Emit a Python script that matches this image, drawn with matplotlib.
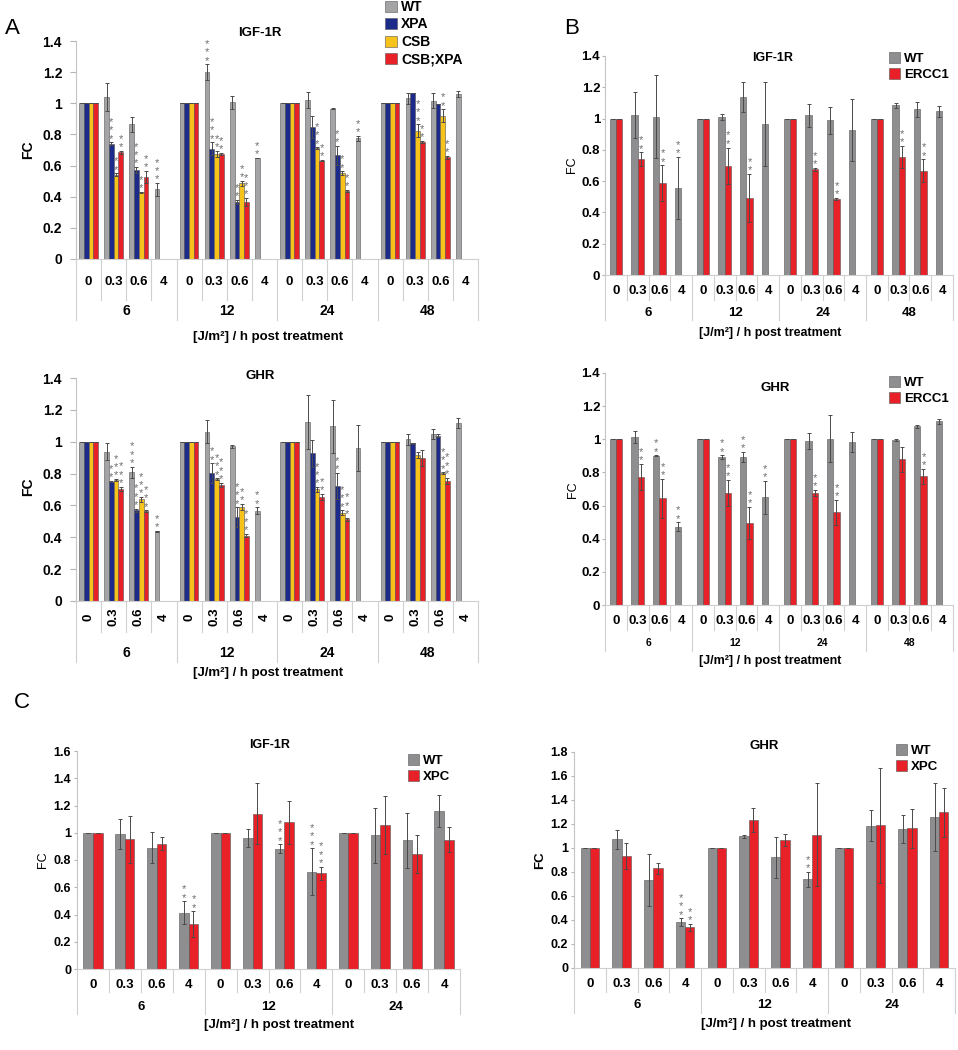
import numpy as np
import matplotlib
matplotlib.use('Agg')
import matplotlib.pyplot as plt
import matplotlib.transforms as mtransforms
from matplotlib.ticker import FuncFormatter

plt.rcParams['font.family'] = ['Liberation Sans', 'DejaVu Sans']

N = None  # no bar in that slot

# ---------------- data ----------------
groups4 = ['6', '12', '24', '48']
groups3 = ['6', '12', '24']
doses = ['0', '0.3', '0.6', '4']

# panel A, IGF-1R
a_igf_wt = [1, 1.043, 0.865, 0.447, 1, 1.2, 1.006, 0.649, 1, 1.021, 0.964, 0.775, 1, 1.032, 1.017, 1.06]
a_igf_wt_err = [0, 0.09, 0.05, 0.04, 0, 0.05, 0.04, 0, 0, 0.05, 0.003, 0.015, 0, 0.035, 0.05, 0.02]
a_igf_xpa = [1, 0.739, 0.57, N, 1, 0.709, 0.366, N, 1, 0.85, 0.666, N, 1, 1.068, 0.993, N]
a_igf_xpa_err = [0, 0.01, 0.02, N, 0, 0.04, 0.015, N, 0, 0.07, 0.06, N, 0, 0, 0, N]
a_igf_csb = [1, 0.54, 0.428, N, 1, 0.675, 0.486, N, 1, 0.713, 0.552, N, 1, 0.824, 0.921, N]
a_igf_csb_err = [0, 0.01, 0.005, N, 0, 0.02, 0.015, N, 0, 0.005, 0.01, N, 0, 0.04, 0.04, N]
a_igf_dbl = [1, 0.685, 0.525, N, 1, 0.675, 0.366, N, 1, 0.632, 0.437, N, 1, 0.752, 0.653, N]
a_igf_dbl_err = [0, 0.01, 0.04, N, 0, 0.005, 0.025, N, 0, 0.005, 0.005, N, 0, 0.005, 0.01, N]
a_igf_stars = [
    [0, 0, 0, 3, 0, 3, 0, 2, 0, 0, 0, 2, 0, 0, 0, 0],
    [0, 3, 3, 0, 0, 3, 2, 0, 0, 0, 2, 0, 0, 0, 0, 0],
    [0, 2, 2, 0, 0, 2, 2, 0, 0, 3, 2, 0, 0, 3, 2, 0],
    [0, 2, 2, 0, 0, 2, 3, 0, 0, 2, 2, 0, 0, 2, 2, 0],
]

# panel A, GHR
a_ghr_wt = [1, 0.938, 0.808, 0.439, 1, 1.064, 0.972, 0.567, 1, 1.123, 1.096, 0.959, 1, 1.016, 1.047, 1.117]
a_ghr_wt_err = [0, 0.053, 0.035, 0.003, 0, 0.07, 0.01, 0.02, 0, 0.17, 0.164, 0.143, 0, 0.034, 0.03, 0.03]
a_ghr_xpa = [1, 0.749, 0.569, N, 1, 0.802, 0.527, N, 1, 0.928, 0.724, N, 1, 0.989, 1.037, N]
a_ghr_xpa_err = [0, 0.005, 0.01, N, 0, 0.063, 0.06, N, 0, 0.084, 0.082, N, 0, 0.005, 0.01, N]
a_ghr_csb = [1, 0.76, 0.638, N, 1, 0.766, 0.59, N, 1, 0.701, 0.554, N, 1, 0.915, 0.802, N]
a_ghr_csb_err = [0, 0.005, 0.015, N, 0, 0.005, 0.02, N, 0, 0.015, 0.015, N, 0, 0.02, 0.005, N]
a_ghr_dbl = [1, 0.703, 0.565, N, 1, 0.728, 0.41, N, 1, 0.651, 0.512, N, 1, 0.896, 0.754, N]
a_ghr_dbl_err = [0, 0.015, 0.005, N, 0, 0.015, 0.01, N, 0, 0.02, 0.01, N, 0, 0.05, 0.02, N]
a_ghr_stars = [
    [0, 0, 3, 2, 0, 0, 0, 2, 0, 0, 0, 0, 0, 0, 0, 0],
    [0, 2, 3, 0, 0, 2, 3, 0, 0, 0, 2, 0, 0, 0, 0, 0],
    [0, 3, 3, 0, 0, 3, 2, 0, 0, 3, 3, 0, 0, 0, 3, 0],
    [0, 3, 3, 0, 0, 3, 3, 0, 0, 2, 3, 0, 0, 0, 3, 0],
]

# panel B, IGF-1R
b_igf_wt = [1, 1.023, 1.013, 0.555, 1, 1.009, 1.14, 0.966, 1, 1.021, 0.99, 0.928, 1, 1.085, 1.06, 1.047]
b_igf_wt_err = [0, 0.145, 0.264, 0.2, 0, 0.02, 0.096, 0.27, 0, 0.075, 0.087, 0.2, 0, 0.015, 0.049, 0.036]
b_igf_ercc1 = [1, 0.74, 0.587, N, 1, 0.698, 0.491, N, 1, 0.677, 0.487, N, 1, 0.753, 0.668, N]
b_igf_ercc1_err = [0, 0.045, 0.113, N, 0, 0.117, 0.155, N, 0, 0.01, 0.005, N, 0, 0.072, 0.072, N]
b_igf_stars = [
    [0, 0, 0, 2, 0, 0, 0, 0, 0, 0, 0, 0, 0, 0, 0, 0],
    [0, 2, 2, 0, 0, 2, 2, 0, 0, 2, 2, 0, 0, 2, 2, 0],
]

# panel B, GHR
b_ghr_wt = [1, 1.013, 0.9, 0.473, 1, 0.894, 0.892, 0.651, 1, 0.989, 1.003, 0.983, 1, 0.997, 1.078, 1.11]
b_ghr_wt_err = [0, 0.035, 0.003, 0.026, 0, 0.01, 0.032, 0.099, 0, 0.048, 0.143, 0.06, 0, 0.005, 0.01, 0.015]
b_ghr_ercc1 = [1, 0.772, 0.643, N, 1, 0.675, 0.494, N, 1, 0.675, 0.56, N, 1, 0.88, 0.776, N]
b_ghr_ercc1_err = [0, 0.079, 0.12, N, 0, 0.079, 0.097, N, 0, 0.02, 0.075, N, 0, 0.075, 0.044, N]
b_ghr_stars = [
    [0, 0, 2, 2, 0, 2, 2, 2, 0, 0, 0, 0, 0, 0, 0, 0],
    [0, 2, 2, 0, 0, 2, 2, 0, 0, 2, 2, 0, 0, 0, 2, 0],
]

# panel C, IGF-1R
c_igf_wt = [1, 0.99, 0.89, 0.414, 1, 0.961, 0.882, 0.713, 1, 0.98, 0.944, 1.157]
c_igf_wt_err = [0, 0.108, 0.113, 0.083, 0, 0.064, 0.032, 0.172, 0, 0.2, 0.2, 0.118]
c_igf_xpc = [1, 0.951, 0.919, 0.328, 1, 1.14, 1.076, 0.703, 1, 1.054, 0.843, 0.949]
c_igf_xpc_err = [0, 0.172, 0.047, 0.096, 0, 0.223, 0.157, 0.047, 0, 0.213, 0.14, 0.093]
c_igf_stars = [
    [0, 0, 0, 2, 0, 0, 3, 3, 0, 0, 0, 0],
    [0, 0, 0, 2, 0, 0, 0, 3, 0, 0, 0, 0],
]

# panel C, GHR
c_ghr_wt = [1, 1.072, 0.731, 0.382, 1, 1.097, 0.922, 0.74, 1, 1.186, 1.158, 1.258]
c_ghr_wt_err = [0, 0.08, 0.216, 0.033, 0, 0.01, 0.172, 0.061, 0, 0.127, 0.114, 0.28]
c_ghr_xpc = [1, 0.934, 0.831, 0.338, 1, 1.235, 1.066, 1.111, 1, 1.191, 1.163, 1.296]
c_ghr_xpc_err = [0, 0.105, 0.044, 0.028, 0, 0.1, 0.047, 0.427, 0, 0.479, 0.166, 0.202]
c_ghr_stars = [
    [0, 0, 0, 3, 0, 0, 0, 2, 0, 0, 0, 0],
    [0, 0, 0, 2, 0, 0, 0, 0, 0, 0, 0, 0],
]

GRAY_A = '#a4a4a6'
GRAY = '#8e8e91'
NAVY = '#1c2a8a'
GOLD = '#f7c21a'
RED = '#e82027'

W, H = 958, 1050
XLABEL = '[J/m\u00b2] / h post treatment'


def arr(v):
    return np.array([np.nan if a is None else a for a in v], dtype=float)


def make_ax(fig, left, right, top, bottom):
    return fig.add_axes([left / W, 1 - bottom / H, (right - left) / W, (bottom - top) / H])


def ftext(fig, x, y, s, **kw):
    fig.text(x / W, 1 - y / H, s, ha='center', va='center', **kw)


def draw_bars(ax, series, errs, stars, colors, width):
    k = len(series)
    x = np.arange(len(series[0]))
    handles = []
    for j in range(k):
        off = (j - (k - 1) / 2) * width
        vals = arr(series[j])
        e = arr(errs[j])
        b = ax.bar(x + off, vals, width, color=colors[j], edgecolor='#555555', linewidth=0.4,
                   yerr=e, error_kw=dict(ecolor='#4a4a4a', elinewidth=0.7, capsize=1.6, capthick=0.7))
        handles.append(b)
        # significance asterisks, stacked vertically above the error bar
        for i in range(len(x)):
            for s in range(stars[j][i]):
                ax.annotate('*', (x[i] + off, vals[i] + e[i]), xytext=(0, 6 * s - 1),
                            textcoords='offset points', ha='center', va='bottom',
                            fontsize=8, color='#6e6e6e')
    return handles


def style_y(ax, ymax, tlen, tpad, tsize):
    ax.set_ylim(0, ymax)
    ax.set_yticks(np.arange(0, ymax + 0.01, 0.2))
    ax.yaxis.set_major_formatter(FuncFormatter(lambda v, p: f'{v:g}'))
    ax.tick_params(axis='y', length=tlen, pad=tpad, color='#b5b5b5', labelsize=tsize)
    for t in ax.get_yticklabels():
        t.set_fontweight('bold')
    ax.set_xticks([])
    for s in ['top', 'right']:
        ax.spines[s].set_visible(False)
    ax.spines['left'].set_color('#c4c4c4')
    ax.spines['bottom'].set_color('#cfcfcf')


def category_axis(ax, groups, top, bottom, sub_y, grp_y, sub_end, grp_end,
                  rot=0, sub_size=9.5, grp_size=10):
    trans = mtransforms.blended_transform_factory(ax.transData, ax.transAxes)
    hpx = bottom - top
    f = lambda y: -(y - bottom) / hpx
    ns = len(doses)
    n = len(groups) * ns
    ax.set_xlim(-0.5, n - 0.5)
    for i in range(n + 1):
        end = grp_end if i % ns == 0 else sub_end
        ax.plot([i - 0.5, i - 0.5], [0, f(end)], transform=trans, clip_on=False,
                color='#d0d0d0', lw=0.8)
    for g, name in enumerate(groups):
        for s, lab in enumerate(doses):
            ax.text(g * ns + s, f(sub_y), lab, transform=trans, ha='center', va='center',
                    rotation=rot, fontsize=sub_size, fontweight='bold')
        ax.text(g * ns + (ns - 1) / 2, f(grp_y), name, transform=trans, ha='center',
                va='center', fontsize=grp_size, fontweight='bold')


def legend(ax, fig, handles, labels, x, y, size):
    ax.legend(handles, labels, loc='upper left', bbox_to_anchor=(x / W, 1 - y / H),
              bbox_transform=fig.transFigure, frameon=False, borderpad=0, borderaxespad=0,
              handlelength=0.85, handleheight=0.85, handletextpad=0.3, labelspacing=0.25,
              prop=dict(weight='bold', size=size))


def main():
    fig = plt.figure(figsize=(W / 100, H / 100), dpi=100)
    fig.patch.set_facecolor('white')

    colors_a = [GRAY_A, NAVY, GOLD, RED]
    names_a = ['WT', 'XPA', 'CSB', 'CSB;XPA']

    # ---- A, IGF-1R ----
    ax = make_ax(fig, 76, 478, 41, 259)
    h = draw_bars(ax, [a_igf_wt, a_igf_xpa, a_igf_csb, a_igf_dbl],
                  [a_igf_wt_err, a_igf_xpa_err, a_igf_csb_err, a_igf_dbl_err],
                  a_igf_stars, colors_a, 0.187)
    style_y(ax, 1.4, 4, 6, 10)
    category_axis(ax, groups4, 41, 259, 282, 311, 300, 320)
    legend(ax, fig, h, names_a, 385, 0, 10)
    ftext(fig, 260, 33, 'IGF-1R', fontsize=9.5, fontweight='bold')
    ftext(fig, 28, 150, 'FC', fontsize=10, fontweight='bold', rotation=90)
    ftext(fig, 268, 337, XLABEL, fontsize=9.5, fontweight='bold')
    ftext(fig, 12, 28, 'A', fontsize=16)

    # ---- A, GHR ----
    ax = make_ax(fig, 76, 478, 378, 601)
    draw_bars(ax, [a_ghr_wt, a_ghr_xpa, a_ghr_csb, a_ghr_dbl],
              [a_ghr_wt_err, a_ghr_xpa_err, a_ghr_csb_err, a_ghr_dbl_err],
              a_ghr_stars, colors_a, 0.187)
    style_y(ax, 1.4, 4, 6, 10)
    category_axis(ax, groups4, 378, 601, 617, 653, 632, 662, rot=90)
    ftext(fig, 260, 376, 'GHR', fontsize=9.5, fontweight='bold')
    ftext(fig, 28, 487, 'FC', fontsize=10, fontweight='bold', rotation=90)
    ftext(fig, 268, 673, XLABEL, fontsize=9.5, fontweight='bold')

    # ---- B, IGF-1R ----
    ax = make_ax(fig, 605, 953, 56, 275)
    h = draw_bars(ax, [b_igf_wt, b_igf_ercc1], [b_igf_wt_err, b_igf_ercc1_err],
                  b_igf_stars, [GRAY, RED], 0.285)
    style_y(ax, 1.4, 2, 1.5, 9.5)
    category_axis(ax, groups4, 56, 275, 291, 313, 300, 320, sub_size=9.5, grp_size=9.5)
    legend(ax, fig, h, ['WT', 'ERCC1'], 889, 52, 9.5)
    ftext(fig, 773, 58, 'IGF-1R', fontsize=9, fontweight='bold')
    ftext(fig, 572, 165, 'FC', fontsize=9, rotation=90)
    ftext(fig, 770, 333, XLABEL, fontsize=9, fontweight='bold')
    ftext(fig, 572, 28, 'B', fontsize=16)

    # ---- B, GHR ----
    ax = make_ax(fig, 605, 953, 373, 605)
    h = draw_bars(ax, [b_ghr_wt, b_ghr_ercc1], [b_ghr_wt_err, b_ghr_ercc1_err],
                  b_ghr_stars, [GRAY, RED], 0.285)
    style_y(ax, 1.4, 2, 1.5, 9.5)
    category_axis(ax, groups4, 373, 605, 621, 643, 630, 651, sub_size=9.5, grp_size=7.5)
    legend(ax, fig, h, ['WT', 'ERCC1'], 889, 376, 9.5)
    ftext(fig, 775, 388, 'GHR', fontsize=9.5, fontweight='bold')
    ftext(fig, 573, 490, 'FC', fontsize=9, rotation=90)
    ftext(fig, 770, 661, XLABEL, fontsize=9, fontweight='bold')

    # ---- C, IGF-1R ----
    ax = make_ax(fig, 77, 460, 751, 969)
    h = draw_bars(ax, [c_igf_wt, c_igf_xpc], [c_igf_wt_err, c_igf_xpc_err],
                  c_igf_stars, [GRAY, RED], 0.30)
    style_y(ax, 1.6, 2, 2.3, 9)
    category_axis(ax, groups3, 751, 969, 985, 1007, 992, 1014, sub_size=9.5, grp_size=9.5)
    legend(ax, fig, h, ['WT', 'XPC'], 408, 754, 9.5)
    ftext(fig, 270, 745, 'IGF-1R', fontsize=9, fontweight='bold')
    ftext(fig, 43, 860, 'FC', fontsize=9, rotation=90)
    ftext(fig, 279, 1025, XLABEL, fontsize=9.5, fontweight='bold')
    ftext(fig, 22, 703, 'C', fontsize=16)

    # ---- C, GHR ----
    ax = make_ax(fig, 574, 955, 752, 968)
    h = draw_bars(ax, [c_ghr_wt, c_ghr_xpc], [c_ghr_wt_err, c_ghr_xpc_err],
                  c_ghr_stars, [GRAY, RED], 0.29)
    style_y(ax, 1.8, 2, 2.3, 9)
    category_axis(ax, groups3, 752, 968, 984, 1005, 992, 1013, sub_size=9.5, grp_size=9.5)
    legend(ax, fig, h, ['WT', 'XPC'], 896, 744, 9.5)
    ftext(fig, 764, 746, 'GHR', fontsize=9.5, fontweight='bold')
    ftext(fig, 540, 860, 'FC', fontsize=9.5, fontweight='bold', rotation=90)
    ftext(fig, 776, 1024, XLABEL, fontsize=9.5, fontweight='bold')

    fig.savefig('out.png', dpi=100, facecolor='white')


if __name__ == "__main__":
    main()
